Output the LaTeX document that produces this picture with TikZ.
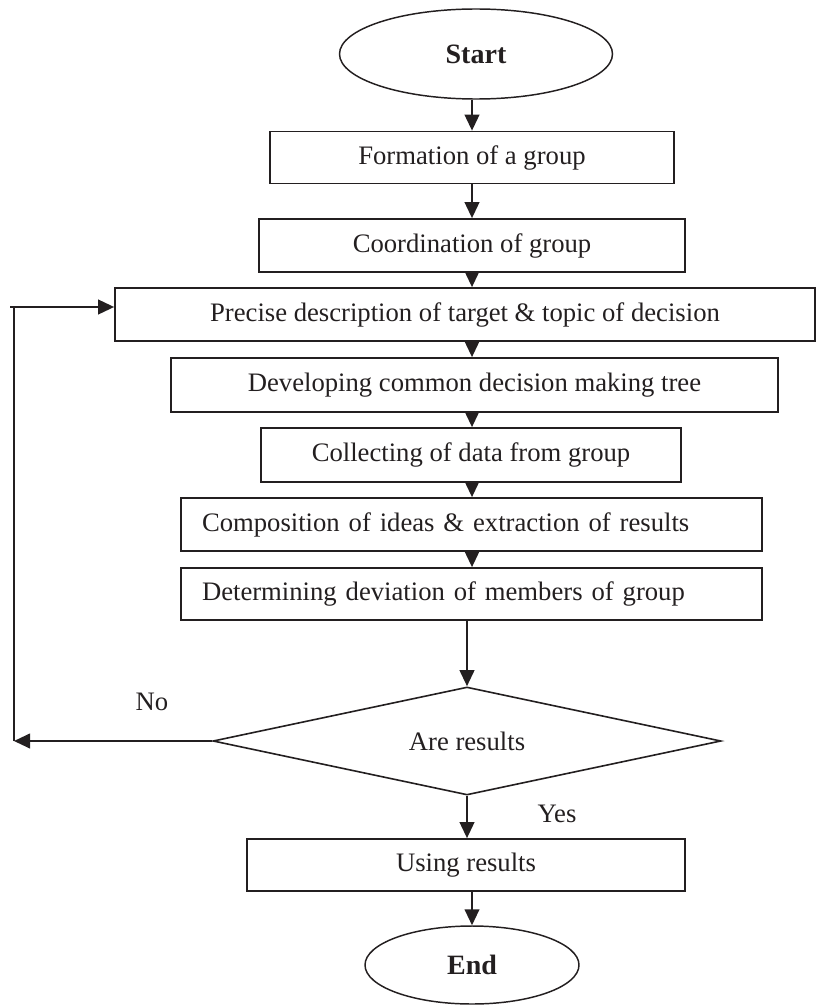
\documentclass[tikz,border=0pt]{standalone}
\usepackage{fontspec}
\setmainfont{Liberation Serif}
\usetikzlibrary{shapes.geometric,arrows.meta}
\definecolor{ink}{RGB}{35,31,32}
\begin{document}
\begin{tikzpicture}[x=0.75pt,y=-0.75pt,
  every node/.style={text=ink},
  txt/.style={font=\fontsize{20}{24}\selectfont},
  boldtxt/.style={font=\fontsize{21}{25}\selectfont\bfseries},
  procbox/.style={draw=ink,line width=1.3pt,rectangle,inner sep=0pt,txt},
  leftbox/.style={procbox,inner xsep=21*0.75pt,align=left,text width=539*0.75pt},
  term/.style={draw=ink,line width=1.1pt,ellipse,inner sep=0pt,boldtxt},
  decide/.style={draw=ink,line width=1.2pt,diamond,inner sep=0pt,aspect=4.7,txt},
  conn/.style={draw=ink,line width=1.5pt},
  arr/.style={conn,-{Triangle[length=12pt,width=11pt]}},
  lbl/.style={txt,inner sep=0pt}]
\useasboundingbox (0,0) rectangle (817,1006);
\node[term,minimum width=273*0.75pt,minimum height=90*0.75pt] (start) at (476,54) {Start};
\node[procbox,minimum width=404*0.75pt,minimum height=52*0.75pt] (b1) at (472,157.5) {Formation of a group};
\node[procbox,minimum width=426*0.75pt,minimum height=53*0.75pt] (b2) at (472,245.5) {Coordination of group};
\node[procbox,minimum width=700*0.75pt,minimum height=53*0.75pt] (b3) at (465,314.5) {Precise description of target \& topic of decision};
\node[procbox,minimum width=607*0.75pt,minimum height=54*0.75pt] (b4) at (474.5,385) {Developing common decision making tree};
\node[procbox,minimum width=420*0.75pt,minimum height=54*0.75pt] (b5) at (471,455) {Collecting of data from group};
\node[leftbox,minimum height=53*0.75pt] (b6) at (471.5,524.5) {Composition of ideas \& extraction of results};
\node[leftbox,minimum height=52*0.75pt] (b7) at (471.5,594) {Determining deviation of members of group};
\node[decide,minimum width=508*0.75pt,minimum height=108*0.75pt] (d) at (467,741) {Are results};
\node[procbox,minimum width=438*0.75pt,minimum height=52*0.75pt] (b8) at (466,865) {Using results};
\node[term,minimum width=214*0.75pt,minimum height=78*0.75pt] (e) at (472,965) {End};
\node[lbl] (no) at (152,702) {No};
\node[lbl] (yes) at (557,814) {Yes};
\coordinate (ax) at (472,0);
\coordinate (c1) at (14,741);
\coordinate (c2) at (14,307);
\coordinate (c3) at (10,307);
\draw[arr] (b1.north |- start.south) -- (b1.north);
\draw[arr] (b1.south) -- (b2.north);
\draw[arr] (b2.south) -- (b2.south |- b3.north);
\draw[arr] (b3.south -| ax) -- (b4.north -| ax);
\draw[arr] (b4.south -| ax) -- (b5.north -| ax);
\draw[arr] (b5.south -| ax) -- (b6.north -| ax);
\draw[arr] (b6.south -| ax) -- (b7.north -| ax);
\draw[arr] (b7.south -| d.north) -- (d.north);
\draw[arr] (d.south) -- (b8.north -| d.south);
\draw[arr] (b8.south -| e.north) -- (e.north);
\draw[arr] (d.west) -- (c1);
\draw[conn] (c1) -- (c2);
\draw[arr] (c3) -- (c3 -| b3.west);
\end{tikzpicture}
\end{document}
